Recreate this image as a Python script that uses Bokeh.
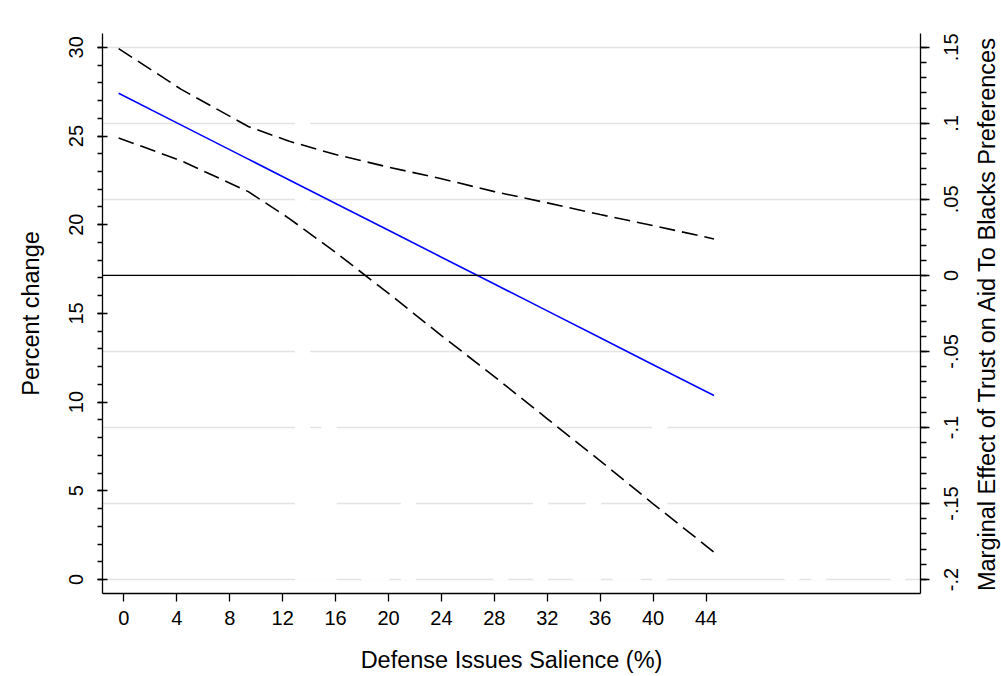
import math
from bokeh.plotting import figure
from bokeh.layouts import row
from bokeh.models import Range1d, LinearAxis, FixedTicker, CustomJSTickFormatter, Span
from bokeh.core.properties import value
from bokeh.embed import file_html
from bokeh.resources import INLINE

# ---- data ----
x_ticks = [0, 4, 8, 12, 16, 20, 24, 28, 32, 36, 40, 44]
left_ticks = [0, 5, 10, 15, 20, 25, 30]
left_minor = list(range(0, 31))
right_ticks = [-0.2, -0.15, -0.1, -0.05, 0.0, 0.05, 0.1, 0.15]
right_labels = ["-.2", "-.15", "-.1", "-.05", "0", ".05", ".1", ".15"]
right_minor = [-0.2, -0.19, -0.18, -0.17, -0.16, -0.15, -0.14, -0.13, -0.12, -0.11,
               -0.1, -0.09, -0.08, -0.07, -0.06, -0.05, -0.04, -0.03, -0.02, -0.01,
               0.0, 0.01, 0.02, 0.03, 0.04, 0.05, 0.06, 0.07, 0.08, 0.09,
               0.1, 0.11, 0.12, 0.13, 0.14, 0.15]

# histogram of salience (percent of observations), white bars
hist_left = [13, 14, 15, 18, 19, 21, 28, 31, 34, 35, 37, 38, 40, 50, 52, 58]
hist_pct = [27.5, 7, 11.5, 2.5, 2.5, 6, 2.5, 7, 2.5, 7, 2.5, 2.5, 11.5, 2.5, 2.5, 2.5]

# marginal effect and 95% CI
salience = [-0.4, 4.3, 9.4, 12.5, 16, 20, 24, 28, 32, 36, 40, 44.6]
me = [0.1198, 0.0990, 0.0765, 0.0628, 0.0473, 0.0297, 0.0120, -0.0057, -0.0233, -0.0410, -0.0587, -0.0790]
upper = [0.1492, 0.1225, 0.0979, 0.0882, 0.0795, 0.0712, 0.0636, 0.0551, 0.0477, 0.0400, 0.0328, 0.0240]
lower = [0.0904, 0.0755, 0.0551, 0.0374, 0.0151, -0.0118, -0.0396, -0.0665, -0.0943, -0.1220, -0.1502, -0.1820]

x_title = "Defense Issues Salience (%)"
left_title = "Percent change"
right_title = "Marginal Effect of Trust on Aid To Blacks Preferences"

FONT = "Liberation Sans"
TICK_SIZE = "20px"
TITLE_SIZE = "23.5px"

X0, X1 = -1.62, 60.21
ME0, ME1 = -0.2092, 0.1591
MAIN_W = 932
SIDE_W = 1001 - MAIN_W

p = figure(width=MAIN_W, height=676, output_backend="svg", toolbar_location=None,
           x_range=Range1d(X0, X1), y_range=Range1d(-0.79, 30.78),
           min_border_left=102, min_border_right=12, min_border_top=33, min_border_bottom=83,
           background_fill_color="white", border_fill_color="white")
p.outline_line_color = None
p.extra_y_ranges = {"me": Range1d(ME0, ME1)}

# grid lines at the right-axis ticks
p.xgrid.visible = False
p.ygrid.y_range_name = "me"
p.ygrid.ticker = FixedTicker(ticks=right_ticks)
p.ygrid.grid_line_color = "#e4e4e4"
p.ygrid.grid_line_width = 1.6

# white histogram bars
hist_right = [v + 1 for v in hist_left]
p.quad(left=hist_left, right=hist_right, bottom=0, top=hist_pct,
       fill_color="white", line_color="white", line_width=2)

# zero line
p.add_layout(Span(location=0, dimension="width", y_range_name="me",
                  line_color="black", line_width=1.4))

p.line(salience, upper, y_range_name="me", line_color="black", line_width=1.6, line_dash="16 7")
p.line(salience, lower, y_range_name="me", line_color="black", line_width=1.6, line_dash="16 7")
p.line(salience, me, y_range_name="me", line_color="#0000ff", line_width=1.6)

def style_axis(ax):
    ax.axis_line_color = "black"
    ax.axis_line_width = 1.3
    ax.major_tick_line_color = "black"
    ax.major_tick_line_width = 1.3
    ax.minor_tick_line_color = "black"
    ax.minor_tick_line_width = 1.3
    ax.major_label_text_font = FONT
    ax.major_label_text_font_size = TICK_SIZE
    ax.major_label_text_color = "black"
    ax.axis_label_text_font = FONT
    ax.axis_label_text_font_size = TITLE_SIZE
    ax.axis_label_text_font_style = "normal"
    ax.axis_label_text_color = "black"

# bottom axis
xa = p.xaxis[0]
style_axis(xa)
xa.ticker = FixedTicker(ticks=x_ticks)
xa.axis_label = x_title
xa.major_tick_in = 0
xa.major_tick_out = 8
xa.minor_tick_out = 0
xa.major_label_standoff = 9
xa.axis_label_standoff = 19

# left axis
ya = p.yaxis[0]
style_axis(ya)
ya.ticker = FixedTicker(ticks=left_ticks, minor_ticks=left_minor)
ya.axis_label = left_title
ya.major_tick_in = 5
ya.major_tick_out = 5
ya.minor_tick_in = 0
ya.minor_tick_out = 5
ya.major_label_orientation = "vertical"
ya.major_label_standoff = 14
ya.axis_label_standoff = 23

# right axis: line and ticks only; its texts are drawn in the side panel
ra = LinearAxis(y_range_name="me")
style_axis(ra)
ra.ticker = FixedTicker(ticks=right_ticks, minor_ticks=right_minor)
ra.formatter = CustomJSTickFormatter(code="return '';")
ra.major_tick_in = 0
ra.major_tick_out = 9
ra.minor_tick_in = 0
ra.minor_tick_out = 6
ra.major_label_standoff = 0
ra.axis_label_standoff = 0
p.add_layout(ra, "right")

# side panel holding the right-axis texts (reading bottom to top)
s = figure(width=SIDE_W, height=676, output_backend="svg", toolbar_location=None,
           x_range=Range1d(MAIN_W, 1001), y_range=Range1d(ME0, ME1),
           x_axis_location=None, y_axis_location=None,
           min_border_left=0, min_border_right=0, min_border_top=33, min_border_bottom=83,
           background_fill_color="white", border_fill_color="white")
s.outline_line_color = None
s.grid.visible = False
s.text(x=[950] * len(right_ticks), y=right_ticks, text=right_labels, angle=math.pi / 2,
       text_align="center", text_baseline="middle",
       text_font=value(FONT), text_font_size=value(TICK_SIZE), text_color="black")
s.text(x=[986], y=[(ME0 + ME1) / 2], text=[right_title], angle=math.pi / 2,
       text_align="center", text_baseline="middle",
       text_font=value(FONT), text_font_size=value(TITLE_SIZE), text_color="black")

layout = row(p, s, spacing=0)
open("out.html", "w").write(file_html(layout, INLINE))
